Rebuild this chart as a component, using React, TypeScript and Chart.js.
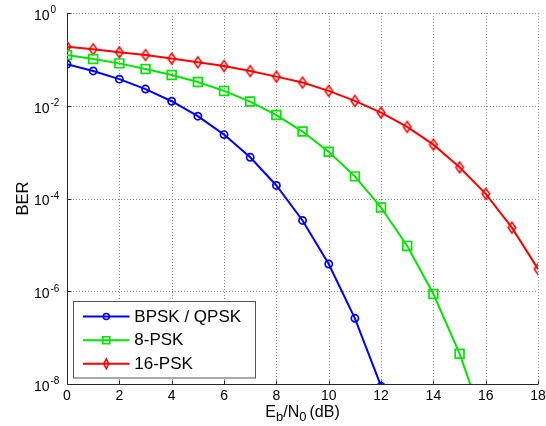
import React, { useEffect, useRef } from "react";
import { Chart, registerables } from "chart.js";

Chart.register(...registerables);

// ---- data ----
const snrDb = [0, 1, 2, 3, 4, 5, 6, 7, 8, 9, 10, 11, 12, 13, 14, 15, 16, 17, 18];
const berBpskQpsk = [0.0786, 0.0563, 0.0375, 0.0229, 0.0125, 0.00595, 0.00239, 7.73e-4, 1.91e-4, 3.36e-5, 3.87e-6, 2.61e-7, 9.0e-9];
const ber8Psk = [0.124, 0.102, 0.082, 0.062, 0.046, 0.0326, 0.0209, 0.0123, 0.0063, 0.00278, 1.02e-3, 3.0e-4, 6.4e-5, 9.5e-6, 8.7e-7, 4.5e-8, 1.1e-9];
const ber16Psk = [0.188, 0.165, 0.142, 0.124, 0.104, 0.0865, 0.072, 0.056, 0.0425, 0.0316, 0.0209, 0.0127, 0.0071, 0.0035, 1.45e-3, 4.7e-4, 1.26e-4, 2.35e-5, 3.0e-6];
const seriesLabels = ["BPSK / QPSK", "8-PSK", "16-PSK"];
const seriesColors = ["#0000ff", "#00e600", "#ff0000"];
const xTickValues = [0, 2, 4, 6, 8, 10, 12, 14, 16, 18];
const yTickExponents = [0, -2, -4, -6, -8];
const xTitleParts = [
  { t: "E", sub: false },
  { t: "b", sub: true },
  { t: "/N", sub: false },
  { t: "0", sub: true },
  { t: "(dB)", sub: false, gap: 3 },
];
const yTitle = "BER";

const FONT = '"Liberation Sans", Arial, sans-serif';

function toPoints(vals: number[]) {
  return vals.map((v, i) => ({ x: snrDb[i], y: v }));
}

function makeDiamond(color: string, hw: number, hh: number, lw: number) {
  const c = document.createElement("canvas");
  const w = Math.ceil(hw * 2 + lw + 2);
  const h = Math.ceil(hh * 2 + lw + 2);
  c.width = w;
  c.height = h;
  const g = c.getContext("2d")!;
  g.strokeStyle = color;
  g.lineWidth = lw;
  g.beginPath();
  g.moveTo(w / 2, h / 2 - hh);
  g.lineTo(w / 2 + hw, h / 2);
  g.lineTo(w / 2, h / 2 + hh);
  g.lineTo(w / 2 - hw, h / 2);
  g.closePath();
  g.stroke();
  return c;
}

function drawMarker(ctx: CanvasRenderingContext2D, kind: number, x: number, y: number, color: string) {
  ctx.save();
  ctx.strokeStyle = color;
  ctx.lineWidth = 1.6;
  ctx.beginPath();
  if (kind === 0) {
    ctx.arc(x, y, 3, 0, Math.PI * 2);
  } else if (kind === 1) {
    ctx.rect(x - 3.5, y - 3.5, 7, 7);
  } else {
    ctx.moveTo(x, y - 4.8);
    ctx.lineTo(x + 2.5, y);
    ctx.lineTo(x, y + 4.8);
    ctx.lineTo(x - 2.5, y);
    ctx.closePath();
  }
  ctx.stroke();
  ctx.restore();
}

const decorPlugin = {
  id: "decor",
  beforeDatasetsDraw(chart: any) {
    const { ctx, chartArea: a, scales } = chart;
    const xs = scales.x;
    const ys = scales.y;
    ctx.save();
    // grid
    ctx.strokeStyle = "#8a8a8a";
    ctx.lineWidth = 1;
    ctx.setLineDash([1, 2]);
    for (const v of xTickValues) {
      const px = Math.round(xs.getPixelForValue(v)) + 0.5;
      ctx.beginPath();
      ctx.moveTo(px, a.top);
      ctx.lineTo(px, a.bottom);
      ctx.stroke();
    }
    for (const e of yTickExponents) {
      const py = Math.round(ys.getPixelForValue(Math.pow(10, e))) + 0.5;
      ctx.beginPath();
      ctx.moveTo(a.left, py);
      ctx.lineTo(a.right, py);
      ctx.stroke();
    }
    ctx.setLineDash([]);
    // axes
    ctx.strokeStyle = "#262626";
    ctx.lineWidth = 1;
    const lx = Math.round(a.left) + 0.5;
    const by = Math.round(a.bottom) + 0.5;
    ctx.beginPath();
    ctx.moveTo(lx, a.top);
    ctx.lineTo(lx, by);
    ctx.lineTo(a.right, by);
    ctx.stroke();
    // tick marks (inward)
    ctx.beginPath();
    for (const v of xTickValues) {
      const px = Math.round(xs.getPixelForValue(v)) + 0.5;
      ctx.moveTo(px, by);
      ctx.lineTo(px, by - 4);
    }
    for (const e of yTickExponents) {
      const py = Math.round(ys.getPixelForValue(Math.pow(10, e))) + 0.5;
      ctx.moveTo(lx, py);
      ctx.lineTo(lx + 4, py);
    }
    ctx.stroke();
    ctx.restore();
  },
  afterDraw(chart: any) {
    const { ctx, chartArea: a, scales } = chart;
    const xs = scales.x;
    const ys = scales.y;
    ctx.save();
    ctx.fillStyle = "#000";
    // x tick labels
    ctx.font = `14px ${FONT}`;
    ctx.textAlign = "center";
    ctx.textBaseline = "middle";
    for (const v of xTickValues) {
      ctx.fillText(String(v), xs.getPixelForValue(v), a.bottom + 12.5);
    }
    // y tick labels 10^e
    for (const e of yTickExponents) {
      const py = ys.getPixelForValue(Math.pow(10, e));
      ctx.font = `14px ${FONT}`;
      ctx.textAlign = "right";
      ctx.textBaseline = "middle";
      ctx.fillText("10", 49.5, py + 3);
      ctx.font = `10px ${FONT}`;
      ctx.textAlign = "left";
      ctx.fillText(e === 0 ? "0" : "-" + String(-e), 50.5, py - 2.5);
    }
    // x title with subscripts
    const mainF = `16px ${FONT}`;
    const subF = `13px ${FONT}`;
    let total = 0;
    const widths: number[] = [];
    for (const p of xTitleParts) {
      ctx.font = p.sub ? subF : mainF;
      const w = ctx.measureText(p.t).width + ((p as any).gap || 0);
      widths.push(w);
      total += w;
    }
    let cx = (a.left + a.right) / 2 - total / 2;
    ctx.textAlign = "left";
    ctx.textBaseline = "alphabetic";
    const baseY = 416.5;
    xTitleParts.forEach((p, i) => {
      ctx.font = p.sub ? subF : mainF;
      const g = (p as any).gap || 0;
      ctx.fillText(p.t, cx + g, p.sub ? baseY + 4 : baseY);
      cx += widths[i];
    });
    // y title
    ctx.save();
    ctx.translate(23, (a.top + a.bottom) / 2);
    ctx.rotate(-Math.PI / 2);
    ctx.font = `16.5px ${FONT}`;
    ctx.textAlign = "center";
    ctx.textBaseline = "middle";
    ctx.fillText(yTitle, 0, 0);
    ctx.restore();
    // legend
    const bx = 73.5, bY = 301.5, bw = 182, bh = 76.5;
    ctx.fillStyle = "#fff";
    ctx.fillRect(bx, bY, bw, bh);
    ctx.strokeStyle = "#555";
    ctx.lineWidth = 1;
    ctx.strokeRect(bx, bY, bw, bh);
    const rows = [316.5, 340.2, 363.8];
    seriesLabels.forEach((lab, i) => {
      const ry = rows[i];
      ctx.strokeStyle = seriesColors[i];
      ctx.lineWidth = 2;
      ctx.beginPath();
      ctx.moveTo(83, ry);
      ctx.lineTo(129.5, ry);
      ctx.stroke();
      drawMarker(ctx, i, 106.3, ry, seriesColors[i]);
      ctx.fillStyle = "#000";
      ctx.font = `17px ${FONT}`;
      ctx.textAlign = "left";
      ctx.textBaseline = "middle";
      ctx.fillText(lab, 134.3, ry + 0.5);
    });
    ctx.restore();
  },
};

export default function App() {
  const ref = useRef<HTMLCanvasElement | null>(null);
  useEffect(() => {
    const canvas = ref.current!;
    const diamond = makeDiamond(seriesColors[2], 3.8, 5.4, 1.6);
    const chart = new Chart(canvas, {
      type: "line",
      data: {
        datasets: [
          {
            label: seriesLabels[0],
            data: toPoints(berBpskQpsk),
            borderColor: seriesColors[0],
            backgroundColor: "rgba(0,0,0,0)",
            borderWidth: 2,
            pointStyle: "circle",
            pointRadius: 3.6,
            pointBorderWidth: 1.7,
            pointBorderColor: seriesColors[0],
            pointBackgroundColor: "rgba(0,0,0,0)",
            tension: 0,
          },
          {
            label: seriesLabels[1],
            data: toPoints(ber8Psk),
            borderColor: seriesColors[1],
            backgroundColor: "rgba(0,0,0,0)",
            borderWidth: 2,
            pointStyle: "rect",
            pointRadius: 6.2,
            pointBorderWidth: 1.7,
            pointBorderColor: seriesColors[1],
            pointBackgroundColor: "rgba(0,0,0,0)",
            tension: 0,
          },
          {
            label: seriesLabels[2],
            data: toPoints(ber16Psk),
            borderColor: seriesColors[2],
            backgroundColor: "rgba(0,0,0,0)",
            borderWidth: 2,
            pointStyle: diamond as any,
            pointRadius: 5,
            tension: 0,
          },
        ],
      },
      options: {
        responsive: false,
        animation: false,
        devicePixelRatio: 1,
        layout: { padding: { left: 67, right: 7, top: 13, bottom: 42 } },
        plugins: { legend: { display: false }, tooltip: { enabled: false } },
        scales: {
          x: { type: "linear", min: 0, max: 18, display: false },
          y: { type: "logarithmic", min: 1e-8, max: 1, display: false },
        },
      },
      plugins: [decorPlugin],
    });
    return () => chart.destroy();
  }, []);
  return (
    <div style={{ position: "absolute", left: 0, top: 0, width: 546, height: 426, background: "#fff" }}>
      <canvas ref={ref} width={546} height={426} style={{ display: "block" }} />
    </div>
  );
}
